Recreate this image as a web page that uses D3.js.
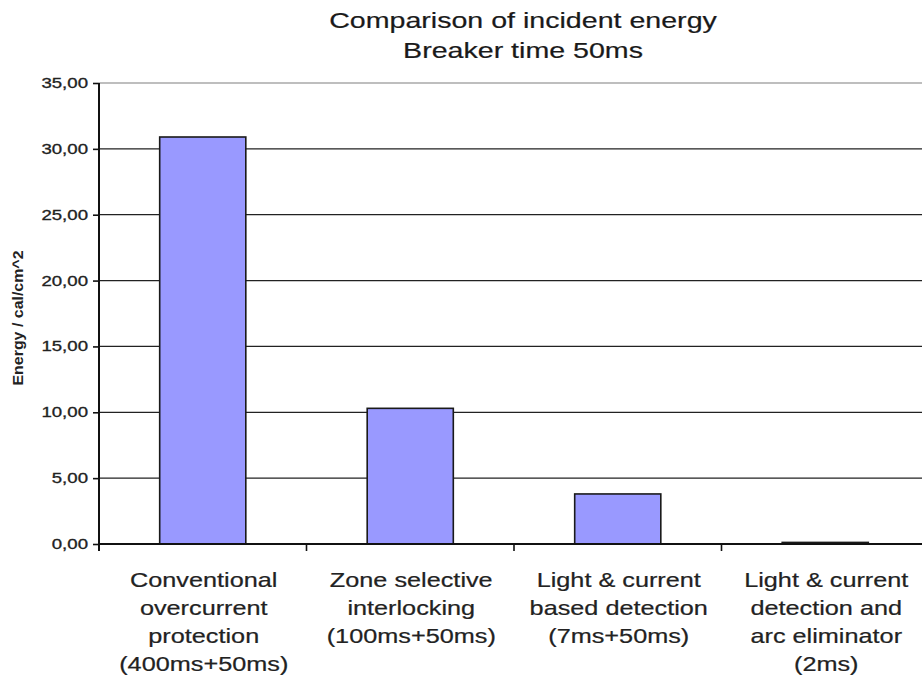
<!DOCTYPE html>
<html>
<head>
<meta charset="utf-8">
<script src="https://cdn.jsdelivr.net/npm/d3@7"></script>
<style>
  html, body { margin: 0; padding: 0; background: #fff; }
  svg { display: block; font-family: "Liberation Sans", Arial, sans-serif; }
</style>
</head>
<body>
<svg id="chart" width="922" height="679"></svg>
<script>
// Incident energy per protection scheme (cal/cm^2)
const categories = [
  ["Conventional", "overcurrent", "protection", "(400ms+50ms)"],
  ["Zone selective", "interlocking", "(100ms+50ms)"],
  ["Light & current", "based detection", "(7ms+50ms)"],
  ["Light & current", "detection and", "arc eliminator", "(2ms)"]
];
const energy = [30.9, 10.3, 3.8, 0.12];
const yTicks = [0, 5, 10, 15, 20, 25, 30, 35];
const titleLines = ["Comparison of incident energy", "Breaker time 50ms"];
const yLabel = "Energy / cal/cm^2";

const svg = d3.select("#chart");
const SX = 1.33;               // horizontal text stretch
const plotLeft = 99, plotRight = 929, plotTop = 83, plotBottom = 544;

const x = d3.scaleBand()
  .domain(d3.range(categories.length))
  .range([plotLeft, plotRight])
  .paddingInner(0.585)
  .paddingOuter(0.2925);
const y = d3.scaleLinear().domain([0, 35]).range([plotBottom, plotTop]);
const step = x.step();

// Gridlines
svg.append("g").selectAll("line")
  .data(yTicks)
  .join("line")
  .attr("x1", plotLeft).attr("x2", plotRight)
  .attr("y1", d => y(d)).attr("y2", d => y(d))
  .attr("stroke", d => d === 35 ? "#a8a8a8" : "#222")
  .attr("stroke-width", d => d === 35 ? 1.5 : 1.3);

// Y axis
const yAxis = svg.append("g")
  .attr("transform", `translate(${plotLeft},0)`)
  .call(d3.axisLeft(y).tickValues(yTicks).tickSize(6).tickFormat(""));
yAxis.select(".domain").remove();
yAxis.selectAll(".tick line").attr("stroke", "#111").attr("stroke-width", 1.6);
svg.append("line")
  .attr("x1", plotLeft).attr("x2", plotLeft)
  .attr("y1", plotTop).attr("y2", plotBottom + 7)
  .attr("stroke", "#111").attr("stroke-width", 2);

svg.append("g").selectAll("text")
  .data(yTicks)
  .join("text")
  .attr("transform", d => `translate(88,${y(d) + 5}) scale(${SX},1.05)`)
  .attr("text-anchor", "end")
  .attr("font-size", 14)
  .attr("fill", "#222")
  .attr("stroke", "#222")
  .attr("stroke-width", 0.3)
  .text(d => d3.format(".2f")(d).replace(".", ","));

// Bars
svg.append("g").selectAll("rect")
  .data(energy)
  .join("rect")
  .attr("x", (d, i) => x(i))
  .attr("width", x.bandwidth())
  .attr("y", d => y(d))
  .attr("height", d => y(0) - y(d))
  .attr("fill", "#9999ff")
  .attr("stroke", "#1a1a1a")
  .attr("stroke-width", 1.6);

// X axis line and category separators
svg.append("line")
  .attr("x1", plotLeft).attr("x2", plotRight)
  .attr("y1", plotBottom).attr("y2", plotBottom)
  .attr("stroke", "#111").attr("stroke-width", 2);
svg.append("g").selectAll("line")
  .data(d3.range(1, categories.length + 1))
  .join("line")
  .attr("x1", i => plotLeft + i * step).attr("x2", i => plotLeft + i * step)
  .attr("y1", plotBottom).attr("y2", plotBottom + 7)
  .attr("stroke", "#111").attr("stroke-width", 1.6);

// Category labels
const catG = svg.append("g").selectAll("g")
  .data(categories)
  .join("g");
catG.selectAll("text")
  .data((d, i) => d.map((t, j) => ({ t, j, i })))
  .join("text")
  .attr("transform", d => `translate(${x(d.i) + x.bandwidth() / 2 + 1},${587 + d.j * 28}) scale(${SX},1.05)`)
  .attr("text-anchor", "middle")
  .attr("font-size", 19)
  .attr("fill", "#222")
  .attr("stroke", "#222")
  .attr("stroke-width", 0.2)
  .text(d => d.t);

// Y axis title
svg.append("text")
  .attr("transform", "translate(23,318) rotate(-90) scale(1.45,1.25)")
  .attr("text-anchor", "middle")
  .attr("font-size", 11)
  .attr("font-weight", "bold")
  .attr("fill", "#222")
  .text(yLabel);

// Chart title
svg.append("g").selectAll("text")
  .data(titleLines)
  .join("text")
  .attr("transform", (d, i) => `translate(523,${28 + i * 30}) scale(${SX},1.05)`)
  .attr("text-anchor", "middle")
  .attr("font-size", 21.5)
  .attr("fill", "#1a1a1a")
  .attr("stroke", "#1a1a1a")
  .attr("stroke-width", 0.2)
  .text(d => d);
</script>
</body>
</html>
